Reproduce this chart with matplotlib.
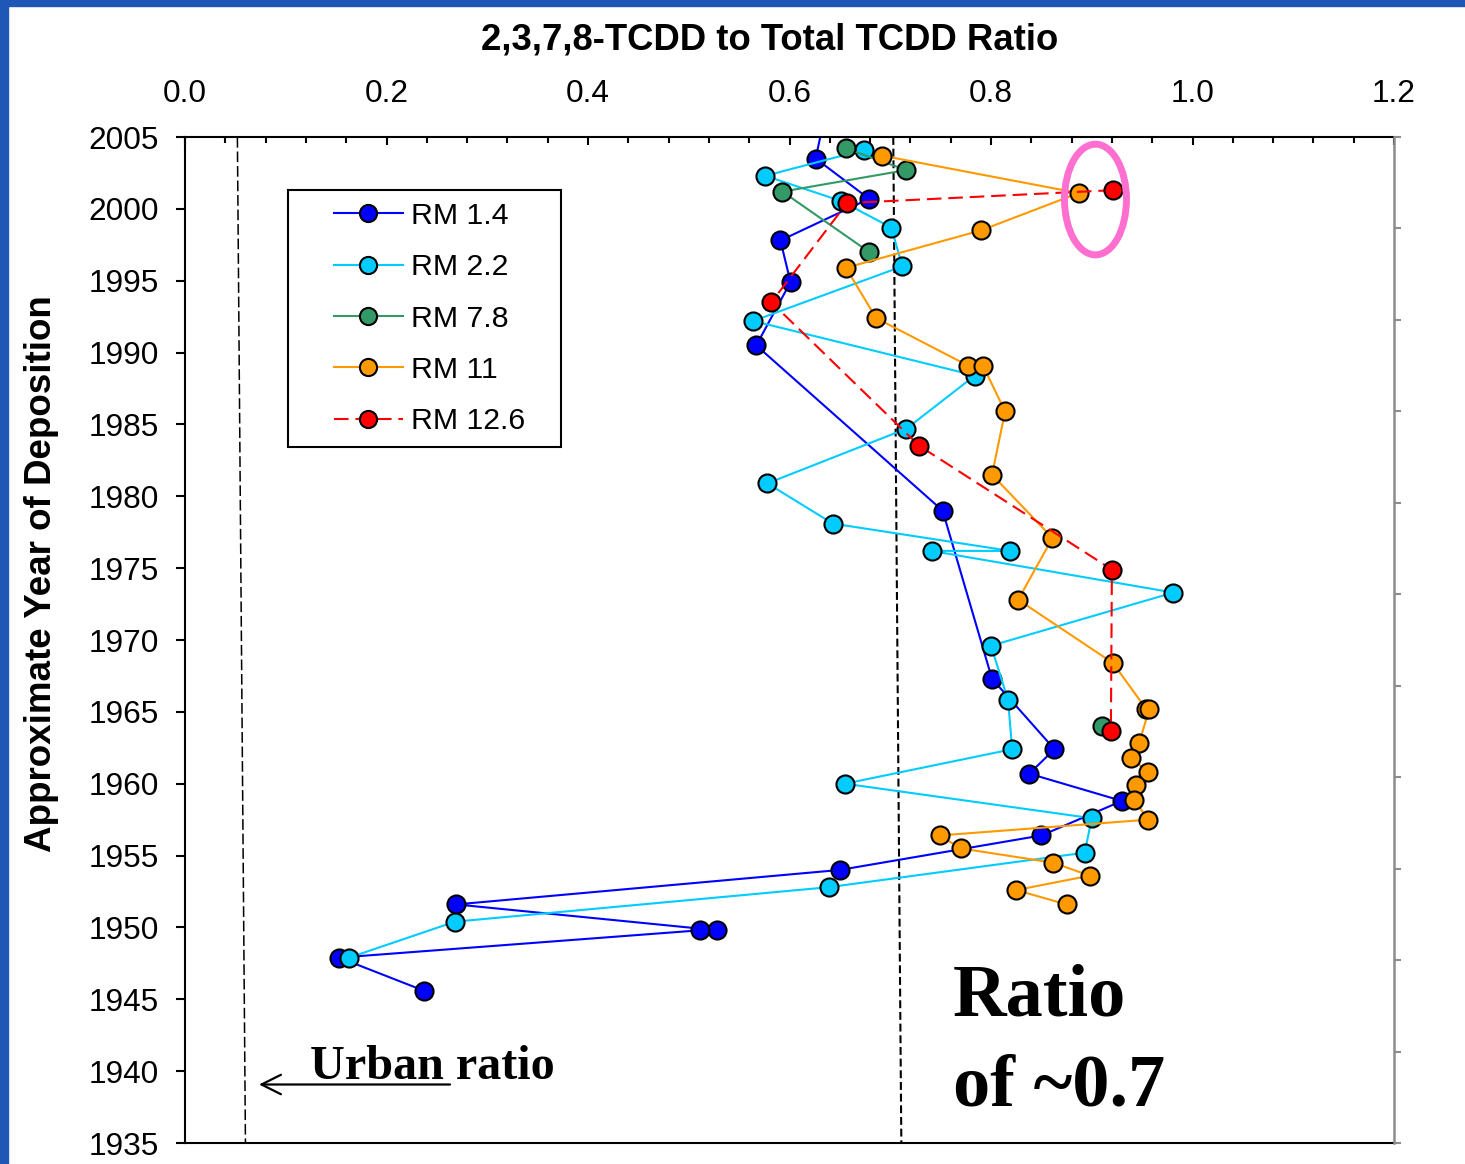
import matplotlib
matplotlib.use('Agg')
import numpy as np
import matplotlib.pyplot as plt
from matplotlib.patches import Ellipse, Rectangle

# ratio of 2,3,7,8-TCDD to total TCDD vs approximate deposition year, per core
rm14_ratio = [0.635, 0.626, 0.679, 0.591, 0.601, 0.567, 0.752, 0.801, 0.863, 0.838,
              0.930, 0.850, 0.650, 0.269, 0.528, 0.511, 0.153, 0.237]
rm14_year = [2006.5, 2003.5, 2000.7, 1997.8, 1994.9, 1990.5, 1979.0, 1967.3, 1962.4, 1960.7,
             1958.8, 1956.4, 1954.0, 1951.6, 1949.8, 1949.8, 1947.9, 1945.6]

rm22_ratio = [0.674, 0.576, 0.651, 0.701, 0.712, 0.564, 0.784, 0.716, 0.578, 0.643, 0.819,
              0.741, 0.981, 0.800, 0.817, 0.821, 0.655, 0.900, 0.893, 0.639, 0.268, 0.163]
rm22_year = [2004.1, 2002.3, 2000.55, 1998.7, 1996.0, 1992.2, 1988.4, 1984.7, 1980.9, 1978.1, 1976.2,
             1976.2, 1973.3, 1969.6, 1965.8, 1962.4, 1960.0, 1957.6, 1955.2, 1952.8, 1950.4, 1947.9]

rm78_ratio = [0.656, 0.716, 0.593, 0.679, np.nan, 0.910]
rm78_year = [2004.2, 2002.7, 2001.2, 1997.0, np.nan, 1964.0]

rm11_ratio = [0.692, 0.887, 0.790, 0.656, 0.686, 0.777, 0.792, 0.814, 0.801, 0.861, 0.827,
              0.921, 0.954, 0.957, 0.947, 0.939, 0.956, 0.944, 0.942, 0.956, 0.749, 0.770,
              0.862, 0.898, 0.825, 0.875]
rm11_year = [2003.7, 2001.1, 1998.5, 1995.9, 1992.4, 1989.1, 1989.1, 1985.9, 1981.5, 1977.1, 1972.8,
             1968.4, 1965.2, 1965.2, 1962.8, 1961.8, 1960.8, 1959.9, 1958.9, 1957.5, 1956.4, 1955.5,
             1954.5, 1953.6, 1952.6, 1951.6]

rm126_ratio = [0.921, 0.657, 0.582, 0.729, 0.920, 0.919]
rm126_year = [2001.3, 2000.4, 1993.5, 1983.5, 1974.9, 1963.7]

series_names = ['RM 1.4', 'RM 2.2', 'RM 7.8', 'RM 11', 'RM 12.6']
series_colors = ['#0000ff', '#00ccff', '#339966', '#ff9900', '#ff0000']

# reference lines (drawn slightly slanted in the original)
urban_x = [0.052, 0.060]
tcdd07_x = [0.703, 0.711]
line_years = [2005, 1935]

x_ticks = [0.0, 0.2, 0.4, 0.6, 0.8, 1.0, 1.2]
y_ticks = [1935, 1940, 1945, 1950, 1955, 1960, 1965, 1970, 1975, 1980, 1985, 1990, 1995, 2000, 2005]

W, H = 1465, 1164
plt.rcParams['font.family'] = ['Liberation Sans', 'DejaVu Sans']


def fx(px):
    return px / W


def fy(py):
    return 1 - py / H


fig = plt.figure(figsize=(W / 100, H / 100), dpi=100)
ax = fig.add_axes([fx(185), fy(1143), (1394 - 185) / W, (1143 - 137) / H])

xs_all = [rm14_ratio, rm22_ratio, rm78_ratio, rm11_ratio, rm126_ratio]
ys_all = [rm14_year, rm22_year, rm78_year, rm11_year, rm126_year]
for name, xs, ys, c in zip(series_names, xs_all, ys_all, series_colors):
    kw = dict(color=c, lw=1.5, marker='o', ms=13, mfc=c, mec='black', mew=1.5, label=name)
    if name == 'RM 12.6':
        kw['dashes'] = (7, 3.3)
    ax.plot(xs, ys, **kw)

ax.plot(urban_x, line_years, color='black', lw=1.1, dashes=(7, 2.5), zorder=1)
ax.plot(tcdd07_x, line_years, color='black', lw=1.5, dashes=(3.8, 1.8), zorder=1)

ax.add_patch(Ellipse((0.9037, 2000.65), 0.0615, 7.7, fill=False, ec='#ff6fd0', lw=5, zorder=5))

ax.set_xlim(0, 1.2)
ax.set_ylim(1935, 2005)
ax.xaxis.tick_top()
ax.set_xticks(x_ticks)
ax.set_xticklabels(['%.1f' % v for v in x_ticks])
ax.set_xticks(np.arange(0, 1.2001, 0.04), minor=True)
ax.set_yticks(y_ticks)
ax.tick_params(axis='x', which='both', direction='in', width=1.5, bottom=False, top=True,
               labelbottom=False, labeltop=True, labelsize=22.8, pad=20.5)
ax.tick_params(axis='x', which='major', length=6)
ax.tick_params(axis='x', which='minor', length=4.5)
ax.tick_params(axis='y', direction='out', length=6.5, width=1.5, labelsize=22.8, pad=12)
for s in ['left', 'top', 'bottom']:
    ax.spines[s].set_linewidth(1.5)
ax.spines['right'].set_visible(False)

ax2 = ax.twinx()
ax2.set_ylim(0, 11)
ax2.set_yticks(range(12))
ax2.tick_params(axis='y', direction='out', length=5, width=1.5, colors='#8c8c8c', labelright=False)
for s in ['left', 'top', 'bottom']:
    ax2.spines[s].set_visible(False)
ax2.spines['right'].set_color('#8c8c8c')
ax2.spines['right'].set_linewidth(1.8)

leg = ax.legend(loc='upper left', bbox_to_anchor=(fx(334), fy(202)), bbox_transform=fig.transFigure,
                frameon=False, borderpad=0, borderaxespad=0, handlelength=2.27, handletextpad=0.27,
                labelspacing=0.77, fontsize=21.8, markerscale=0.95)
fig.add_artist(Rectangle((fx(288), fy(447)), (561 - 288) / W, (447 - 190) / H, transform=fig.transFigure,
                         fill=False, ec='black', lw=1.5))

fig.text(fx(770), fy(40), '2,3,7,8-TCDD to Total TCDD Ratio', ha='center', va='center',
         fontsize=26.3, fontweight='bold')
fig.text(fx(42), fy(574), 'Approximate Year of Deposition', rotation=90, ha='center', va='center',
         fontsize=26.5, fontweight='bold')

serif = ['Liberation Serif', 'DejaVu Serif']
fig.text(fx(953), fy(1016), 'Ratio', family=serif, fontweight='bold', fontsize=53.5, va='baseline')
fig.text(fx(953), fy(1105), 'of ~0.7', family=serif, fontweight='bold', fontsize=53.5, va='baseline')
fig.text(fx(310), fy(1079), 'Urban ratio', family=serif, fontweight='bold', fontsize=34.7, va='baseline')
ax.annotate('', xy=(fx(259), fy(1084.5)), xytext=(fx(450), fy(1084.5)),
            xycoords='figure fraction', textcoords='figure fraction',
            arrowprops=dict(arrowstyle='->', lw=1.6, color='black', mutation_scale=35,
                            shrinkA=0, shrinkB=0))

# blue slide border on left and top
border = '#1f57b7'
fig.add_artist(Rectangle((0, 0), 8 / W, 1, transform=fig.transFigure, color=border))
fig.add_artist(Rectangle((0, fy(6)), 1, 6 / H, transform=fig.transFigure, color=border))

fig.savefig('out.png', dpi=100)
